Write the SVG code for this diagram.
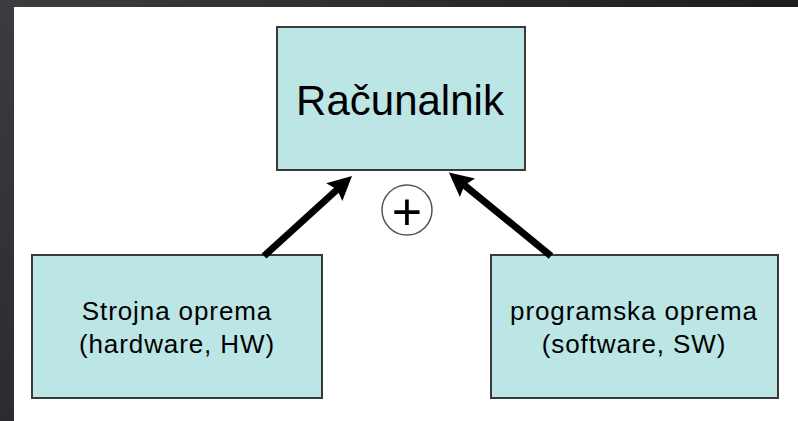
<svg xmlns="http://www.w3.org/2000/svg" width="798" height="421" viewBox="0 0 798 421">
  <defs>
    <linearGradient id="topband" x1="0" y1="0" x2="1" y2="0">
      <stop offset="0" stop-color="#3b3d40"/>
      <stop offset="1" stop-color="#1b1d20"/>
    </linearGradient>
    <linearGradient id="leftband" x1="0" y1="0" x2="0" y2="1">
      <stop offset="0" stop-color="#3a3c3f"/>
      <stop offset="1" stop-color="#2a2c2f"/>
    </linearGradient>
    <marker id="head" viewBox="0 0 24 24" markerWidth="24" markerHeight="24" markerUnits="userSpaceOnUse" refX="4" refY="12" orient="auto">
      <path d="M0,0 L24,12 L0,24 L4,12 z" fill="#000"/>
    </marker>
    <style>
      .box { fill: #bce5e5; stroke: #3a3a3a; stroke-width: 2; }
      .lbl { font-family: "Liberation Sans", Arial, sans-serif; fill: #000; text-anchor: middle; }
      .small { font-size: 26px; letter-spacing: 0.9px; }
      .arrow { stroke: #000; stroke-width: 7; fill: none; marker-end: url(#head); }
    </style>
  </defs>

  <rect x="0" y="0" width="798" height="421" fill="#ffffff"/>
  <rect x="0" y="0" width="798" height="7" fill="url(#topband)"/>
  <rect x="0" y="0" width="14" height="421" fill="url(#leftband)"/>

  <g id="racunalnik">
    <rect class="box" x="277" y="27" width="248" height="143"/>
    <text class="lbl" x="400" y="115" font-size="42">Računalnik</text>
  </g>

  <g id="strojna">
    <rect class="box" x="32" y="255" width="290" height="143"/>
    <text class="lbl small" x="177" y="320">Strojna oprema</text>
    <text class="lbl small" x="177" y="353">(hardware, HW)</text>
  </g>

  <g id="programska">
    <rect class="box" x="491" y="255" width="287" height="143"/>
    <text class="lbl small" x="634" y="320">programska oprema</text>
    <text class="lbl small" x="634" y="353">(software, SW)</text>
  </g>

  <g id="plus">
    <circle cx="407" cy="210" r="25" fill="#fff" stroke="#555" stroke-width="1.5"/>
    <text class="lbl" x="407" y="230" font-size="52">+</text>
  </g>

  <g id="connectors">
    <line class="arrow" x1="264" y1="256" x2="337.2" y2="189.5"/>
    <line class="arrow" x1="551" y1="256" x2="464.4" y2="185.2"/>
  </g>
</svg>
